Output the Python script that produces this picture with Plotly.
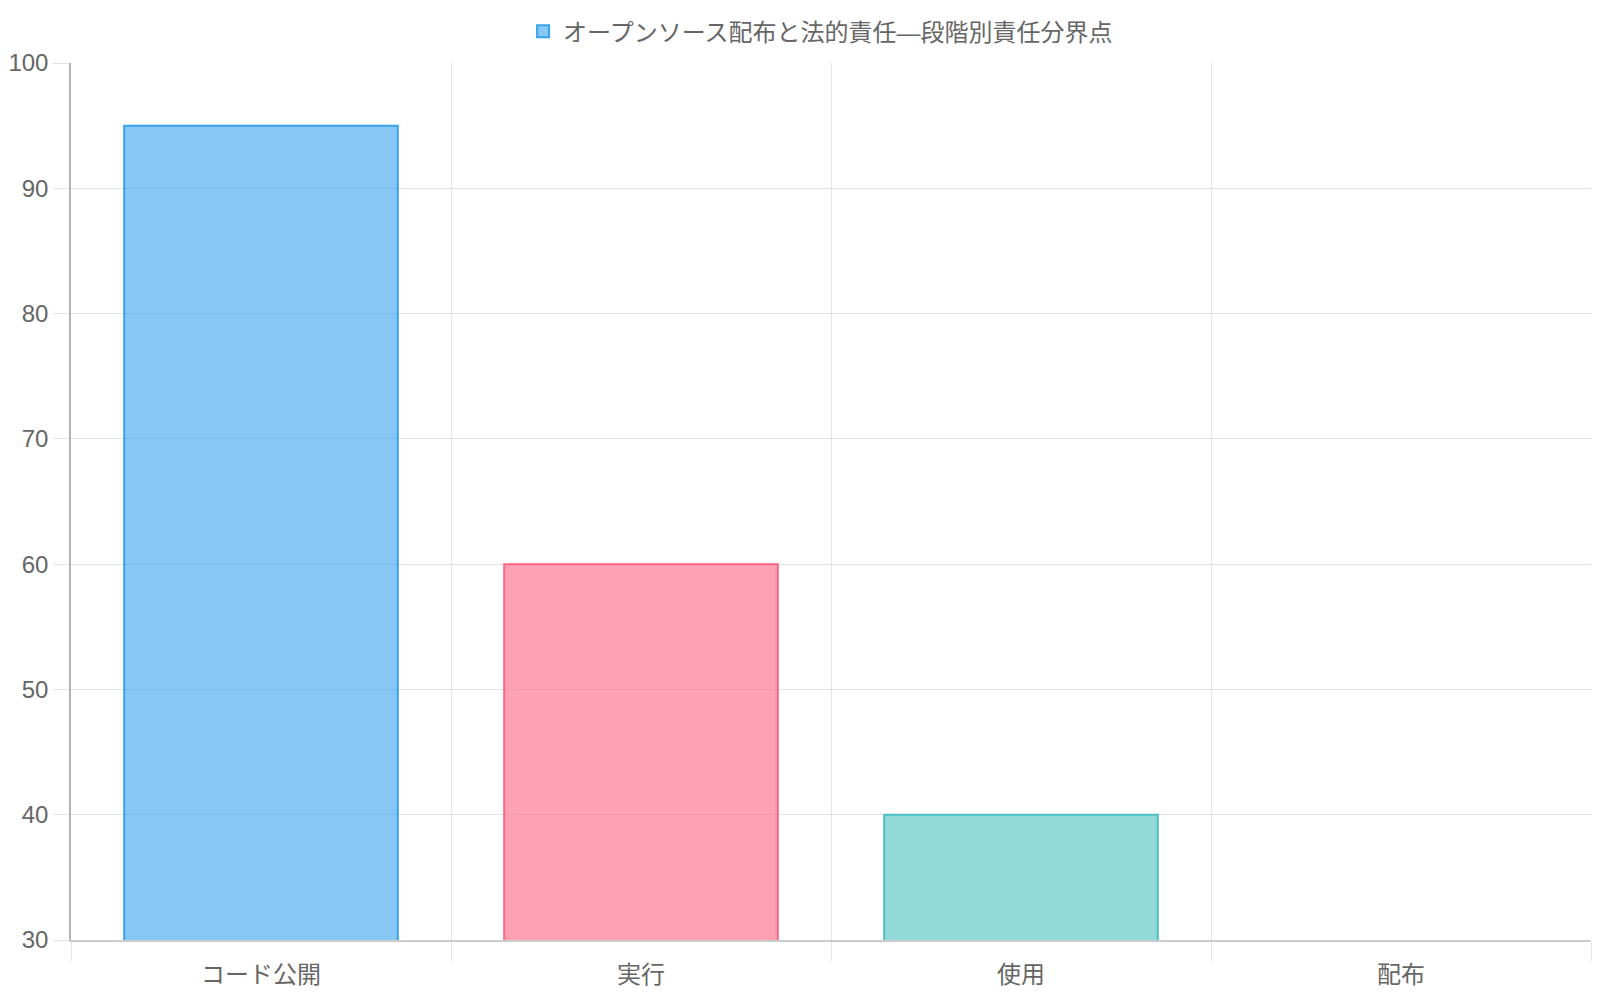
import plotly.graph_objects as go

categories = ["コード公開", "実行", "使用", "配布"]
values = [95, 60, 40, 20]
series_name = "オープンソース配布と法的責任—段階別責任分界点"

fill_colors = [
    "rgba(54,162,235,0.6)",
    "rgba(255,99,132,0.6)",
    "rgba(75,192,192,0.6)",
    "rgba(255,206,86,0.6)",
]
line_colors = [
    "rgb(54,162,235)",
    "rgb(255,99,132)",
    "rgb(75,192,192)",
    "rgb(255,206,86)",
]

fig = go.Figure()
fig.add_trace(
    go.Bar(
        x=categories,
        y=values,
        name=series_name,
        marker={"color": fill_colors, "line": {"color": line_colors, "width": 2}},
        showlegend=True,
        hoverinfo="x+y",
    )
)

font_family = "Liberation Sans, Noto Sans CJK JP, sans-serif"

# figure sized to fit the window together with the default 8px page margin
fig.update_layout(
    width=1584,
    height=984,
    margin={"l": 63, "r": 1, "t": 55, "b": 52, "autoexpand": False},
    paper_bgcolor="white",
    plot_bgcolor="white",
    bargap=0.28,
    font={"family": font_family, "size": 24, "color": "#666666"},
    legend={
        "orientation": "h",
        "x": 0.513,
        "xref": "container",
        "xanchor": "center",
        "y": 0.976,
        "yanchor": "middle",
        "yref": "container",
        "font": {"size": 24, "color": "#666666"},
    },
    xaxis={
        "type": "category",
        "tickson": "boundaries",
        "showgrid": True,
        "gridcolor": "#e3e3e3",
        "ticks": "outside",
        "ticklen": 19,
        "tickcolor": "#e3e3e3",
        "ticklabelstandoff": 12,
        "showline": True,
        "linecolor": "#cccccc",
        "linewidth": 1.5,
        "tickfont": {"size": 24, "color": "#666666"},
    },
    yaxis={
        "range": [30, 100],
        "dtick": 10,
        "showgrid": True,
        "gridcolor": "#e3e3e3",
        "ticks": "outside",
        "ticklen": 16,
        "tickcolor": "#e3e3e3",
        "showline": True,
        "linecolor": "#b3b3b3",
        "linewidth": 1.5,
        "zeroline": False,
        "tickfont": {"size": 24, "color": "#666666"},
    },
)

fig.write_html("out.html")
